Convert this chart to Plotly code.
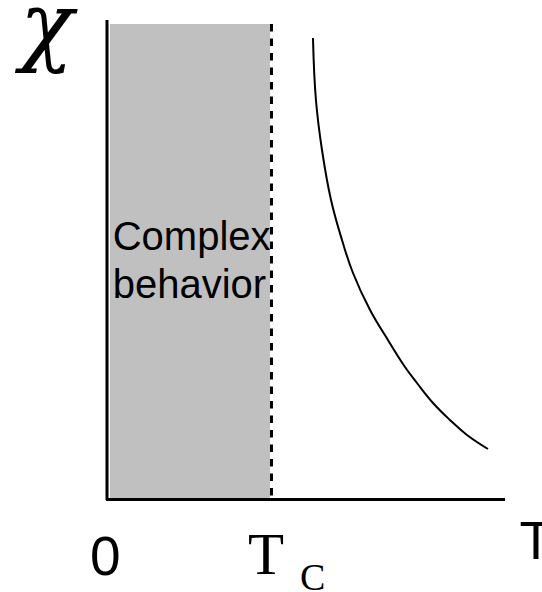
import plotly.graph_objects as go

# ---- data (chart units: T with Tc = 1, chi arbitrary) ----
T_c = 1.0
T_axis_end = 2.427
chi_axis_top = 4.79
region_top = 4.75
curve_T = [1.256, 1.274, 1.311, 1.366, 1.433, 1.500, 1.604, 1.713, 1.817, 1.890, 1.988, 2.091, 2.195, 2.323]
curve_chi = [4.61, 3.99, 3.49, 2.99, 2.59, 2.26, 1.89, 1.59, 1.32, 1.16, 0.96, 0.79, 0.64, 0.50]
region_labels = ["Complex", "behavior"]
x_axis_label = "T"

W, H = 542, 592
fig = go.Figure()

fig.add_trace(go.Scatter(x=curve_T, y=curve_chi, mode="lines",
                         line=dict(color="black", width=2, shape="spline", smoothing=1.2),
                         hoverinfo="skip", showlegend=False))

fig.add_trace(go.Scatter(x=[0.035, 0.035], y=[2.59, 2.11], mode="text",
                         text=region_labels, textposition="middle right",
                         textfont=dict(family="Liberation Sans, Arial", size=40, color="black"),
                         hoverinfo="skip", showlegend=False))

# axis label "T" at the far right (partly cut by the window edge, as in the original)
fig.add_trace(go.Scatter(x=[2.515], y=[-0.46], mode="text",
                         text=[x_axis_label], textposition="middle right",
                         textfont=dict(family="Liberation Sans, Arial", size=54, color="black"),
                         hoverinfo="skip", showlegend=False))

shapes = [
    dict(type="rect", xref="x", yref="y", x0=0.018, x1=0.994, y0=0, y1=region_top,
         fillcolor="#c0c0c0", line=dict(width=0), layer="below"),
    dict(type="line", xref="x", yref="y", x0=T_c + 0.003, x1=T_c + 0.003, y0=region_top, y1=0,
         line=dict(color="black", width=3, dash="7.5px,7px"), layer="above"),
    dict(type="line", xref="x", yref="y", x0=0, x1=0, y0=-0.01, y1=chi_axis_top,
         line=dict(color="black", width=3), layer="above"),
    dict(type="line", xref="x", yref="y", x0=-0.006, x1=T_axis_end, y0=-0.005, y1=-0.005,
         line=dict(color="black", width=3), layer="above"),
]

annotations = [
    dict(x=-0.37, y=4.745, xref="x", yref="y", text="<i>χ</i>", showarrow=False,
         font=dict(family="DejaVu Serif", size=88, color="black"),
         xanchor="center", yanchor="middle"),
    dict(x=-0.012, y=-0.57, xref="x", yref="y", text="0", showarrow=False,
         font=dict(family="Liberation Sans, Arial", size=55, color="black"),
         xanchor="center", yanchor="middle"),
    dict(x=0.97, y=-0.55, xref="x", yref="y", text="T", showarrow=False,
         font=dict(family="Liberation Serif, Times New Roman", size=59, color="black"),
         xanchor="center", yanchor="middle"),
    dict(x=1.25, y=-0.78, xref="x", yref="y", text="C", showarrow=False,
         font=dict(family="Liberation Serif, Times New Roman", size=38, color="black"),
         xanchor="center", yanchor="middle"),
]

fig.update_layout(
    width=W, height=H,
    margin=dict(l=0, r=0, t=0, b=0),
    paper_bgcolor="white", plot_bgcolor="white",
    xaxis=dict(range=[-107 / 164, 435 / 164], visible=False, fixedrange=True),
    yaxis=dict(range=[-0.93, 4.99], visible=False, fixedrange=True),
    shapes=shapes, annotations=annotations, showlegend=False,
)

fig.write_html("out.html", config={"displayModeBar": False},
               post_script="document.body.style.margin='0';document.body.style.overflow='hidden';")
